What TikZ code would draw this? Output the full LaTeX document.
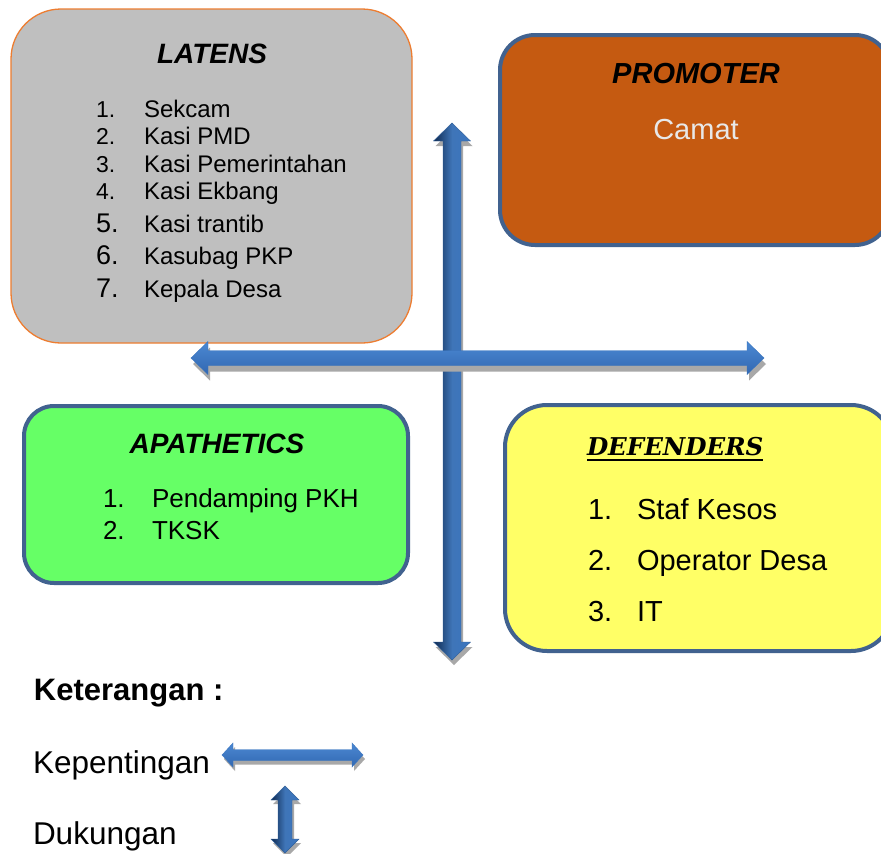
\documentclass[tikz,border=0pt]{standalone}
\usepackage{fontspec}
\setmainfont{Liberation Sans}
\newfontfamily\bookfont{DejaVu Serif}

\definecolor{latgray}{HTML}{BFBFBF}
\definecolor{latedge}{HTML}{ED7D31}
\definecolor{promfill}{HTML}{C55A11}
\definecolor{boxedge}{HTML}{41628F}
\definecolor{apgreen}{HTML}{66FF66}
\definecolor{defyellow}{HTML}{FFFF66}
\definecolor{camatgray}{HTML}{E8E8E8}
\definecolor{arwlight}{HTML}{4B88D2}
\definecolor{arwmid}{HTML}{3A75BF}
\definecolor{arwlow}{HTML}{3268B2}
\definecolor{arwdark}{HTML}{0F2A50}
\definecolor{shadowgray}{HTML}{A8A8A8}

% double-headed horizontal arrow: x1, x2, y, shaft half, head half, head length, style
\newcommand{\hdarrow}[7]{%
  \path[#7] (#1,#3) -- (#1+#6,#3-#5) -- (#1+#6,#3-#4) -- (#2-#6,#3-#4)
    -- (#2-#6,#3-#5) -- (#2,#3) -- (#2-#6,#3+#5) -- (#2-#6,#3+#4)
    -- (#1+#6,#3+#4) -- (#1+#6,#3+#5) -- cycle;}
% double-headed vertical arrow: y1, y2, x, shaft half, head half, head length, style
\newcommand{\vdarrow}[7]{%
  \path[#7] (#3,#1) -- (#3+#5,#1+#6) -- (#3+#4,#1+#6) -- (#3+#4,#2-#6)
    -- (#3+#5,#2-#6) -- (#3,#2) -- (#3-#5,#2-#6) -- (#3-#4,#2-#6)
    -- (#3-#4,#1+#6) -- (#3-#5,#1+#6) -- cycle;}

\begin{document}
\begin{tikzpicture}[x=1pt,y=-1pt,
  panel/.style={rectangle, inner sep=0pt, outer sep=0pt},
  txt/.style={inner sep=0pt, outer sep=0pt, anchor=base west},
  ttl/.style={inner sep=0pt, outer sep=0pt, anchor=base,
    font=\fontsize{28}{32}\selectfont\bfseries\itshape},
  item/.style={txt, font=\fontsize{24}{28}\selectfont},
  itemnum/.style={txt, font=\fontsize{23}{27}\selectfont},
  bignum/.style={txt, font=\fontsize{27}{31}\selectfont},
  apitem/.style={txt, font=\fontsize{26}{30}\selectfont},
  defitem/.style={txt, font=\fontsize{29}{33}\selectfont},
  legend/.style={txt, font=\fontsize{31.5}{35}\selectfont},
  hshade/.style={top color=arwlight, bottom color=arwlow, draw=arwmid, line width=0.4pt},
  vshade/.style={left color=arwdark, right color=arwmid, middle color=arwlight!80!arwdark, draw=arwmid!80!black, line width=0.4pt},
  shadowfill/.style={fill=shadowgray}]

\clip (0,0) rectangle (881,854);
\fill[white] (0,0) rectangle (881,854);

% ---- quadrant panels ----
\node[panel, fill=latgray, draw=latedge, line width=1.3pt, rounded corners=50pt,
  minimum width=401pt, minimum height=334pt] (latens) at (211.5,176) {};
\node[panel, fill=promfill, draw=boxedge, line width=4pt, rounded corners=35pt,
  minimum width=390pt, minimum height=210pt] (promoter) at (695,140) {};
\node[panel, fill=apgreen, draw=boxedge, line width=4pt, rounded corners=30pt,
  minimum width=384pt, minimum height=177pt] (apathetics) at (216,494.5) {};
\node[panel, fill=defyellow, draw=boxedge, line width=4pt, rounded corners=42pt,
  minimum width=388pt, minimum height=246pt] (defenders) at (699,528) {};

% ---- LATENS ----
\node[ttl] (latT) at (212,63) {LATENS};
\node[itemnum] (l1n) at (96,117) {1.};  \node[item] (l1) at (144,117) {Sekcam};
\node[itemnum] (l2n) at (96,144) {2.};  \node[item] (l2) at (144,144) {Kasi PMD};
\node[itemnum] (l3n) at (96,172) {3.};  \node[item] (l3) at (144,172) {Kasi Pemerintahan};
\node[itemnum] (l4n) at (96,199) {4.};  \node[item] (l4) at (144,199) {Kasi Ekbang};
\node[bignum] (l5n) at (96,232) {5.};   \node[item] (l5) at (144,232) {Kasi trantib};
\node[bignum] (l6n) at (96,264) {6.};   \node[item] (l6) at (144,264) {Kasubag PKP};
\node[bignum] (l7n) at (96,297) {7.};   \node[item] (l7) at (144,297) {Kepala Desa};

% ---- PROMOTER ----
\node[ttl, font=\fontsize{29}{33}\selectfont\bfseries\itshape] (promT) at (696,83) {PROMOTER};
\node[inner sep=0pt, anchor=base, text=camatgray, font=\fontsize{29}{33}\selectfont] (camat) at (696,139) {Camat};

% ---- APATHETICS ----
\node[ttl] (apT) at (217,453) {APATHETICS};
\node[apitem] (a1n) at (103,507) {1.}; \node[apitem] (a1) at (152,507) {Pendamping PKH};
\node[apitem] (a2n) at (103,539) {2.}; \node[apitem] (a2) at (152,539) {TKSK};

% ---- DEFENDERS ----
\node[txt, font=\bookfont\fontsize{24.5}{28}\selectfont\bfseries\itshape] (defT) at (587,455) {DEFENDERS};
\draw[line width=1.6pt] ([yshift=-5pt]defT.base west) -- ([yshift=-5pt]defT.base east);
\node[defitem] (d1n) at (588,519) {1.}; \node[defitem] (d1) at (637,519) {Staf Kesos};
\node[defitem] (d2n) at (588,570) {2.}; \node[defitem] (d2) at (637,570) {Operator Desa};
\node[defitem] (d3n) at (588,621) {3.}; \node[defitem] (d3) at (637,621) {IT};

% ---- axes: support (vertical) and interest (horizontal) ----
\begin{scope}[shift={(2,5)}]
  \vdarrow{123}{660}{452}{9}{18.5}{18}{shadowfill}
\end{scope}
\vdarrow{123}{660}{452}{9}{18.5}{18}{vshade}
\begin{scope}[shift={(2,6)}]
  \hdarrow{191}{764}{358}{7.5}{16.5}{17}{shadowfill}
\end{scope}
\hdarrow{191}{764}{358}{7.5}{16.5}{17}{hshade}

% ---- legend ----
\node[txt, font=\fontsize{31}{35}\selectfont\bfseries] (ketT) at (34,700) {Keterangan :};
\node[legend] (kep) at (33,773) {Kepentingan};
\node[legend] (duk) at (33,844) {Dukungan};

\begin{scope}[shift={(2,4)}]
  \hdarrow{222}{363}{755}{5.5}{12}{11}{shadowfill}
  \vdarrow{786}{853}{285}{7}{14}{14}{shadowfill}
\end{scope}
\hdarrow{222}{363}{755}{5.5}{12}{11}{hshade}
\vdarrow{786}{853}{285}{7}{14}{14}{vshade}

\end{tikzpicture}
\end{document}
